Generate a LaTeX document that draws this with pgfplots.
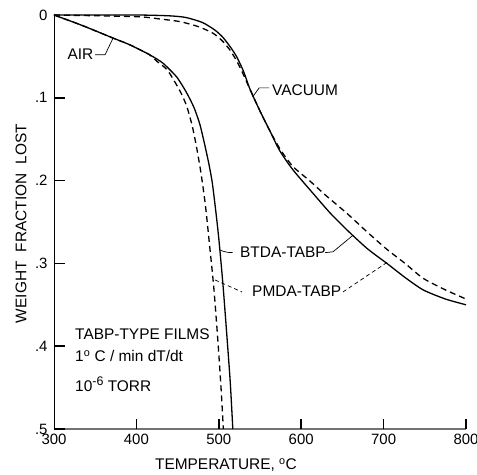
\documentclass[border=0pt]{standalone}
\usepackage{pgfplots}
\pgfplotsset{compat=1.18}
\usepackage{fontspec}
\setmainfont{Liberation Sans}
\begin{document}
\begin{tikzpicture}
\useasboundingbox (-54bp,-46bp) rectangle (423bp,429bp);
\begin{axis}[
  at={(0,0)}, anchor=south west,
  scale only axis, width=412bp, height=414bp,
  xmin=300, xmax=800, ymin=0, ymax=0.5,
  y dir=reverse,
  axis x line*=bottom, axis y line*=left,
  x axis line style={black!55, line width=1.1bp, -},
  y axis line style={black, line width=0.9bp, -},
  xtick={300,400,500,600,700,800},
  xticklabels={300,400,500,600,700,800},
  ytick={0,0.1,0.2,0.3,0.4,0.5},
  yticklabels={0,.1,.2,.3,.4,.5},
  major tick length=0pt,
  ticklabel style={font=\fontsize{15}{17}\selectfont},
  yticklabel style={xshift=-3bp},
  xticklabel style={yshift=-1.5bp},
  clip=false,
]
% Air, BTDA-TABP (solid)
\addplot[black, line width=1.3bp, smooth, tension=0.4] coordinates {
(300,0) (330,0.011) (350,0.019) (372,0.028) (392,0.036) (416,0.048) (432,0.058) (449,0.075) (461,0.094) (470,0.112) (477,0.132) (483,0.157) (488,0.180) (492,0.202) (496,0.234) (500,0.270) (505,0.325) (510,0.390) (514,0.445) (517,0.5)};
% Air, PMDA-TABP (dashed)
\addplot[black, line width=1.3bp, dash pattern=on 6bp off 4bp, smooth, tension=0.4] coordinates {
(300,0) (330,0.011) (350,0.019) (372,0.028) (392,0.036) (416,0.048) (425,0.056) (438,0.067) (453,0.092) (461,0.110) (468,0.135) (474,0.165) (479,0.195) (484,0.232) (489,0.280) (494,0.330) (499,0.395) (503,0.455) (505.5,0.5)};
% Vacuum, BTDA-TABP (solid)
\addplot[black, line width=1.3bp, smooth, tension=0.4] coordinates {
(300,0) (400,0) (440,0.001) (460,0.003) (480,0.009) (495,0.018) (505,0.027) (515,0.040) (522,0.051) (530,0.068) (538,0.090) (550,0.116) (562,0.140) (574,0.164) (590,0.187) (614,0.215) (635,0.239) (656,0.260) (680,0.282) (704,0.300) (726,0.317) (748,0.332) (775,0.343) (800,0.350)};
% Vacuum, PMDA-TABP (dashed)
\addplot[black, line width=1.3bp, dash pattern=on 6bp off 4bp, smooth, tension=0.4] coordinates {
(300,0) (400,0.002) (430,0.005) (453,0.008) (475,0.014) (493,0.022) (505,0.032) (514,0.043) (522,0.056) (528,0.068) (538,0.090) (550,0.116) (562,0.140) (575,0.163) (590,0.183) (610,0.200) (630,0.218) (656,0.240) (680,0.262) (704,0.283) (726,0.300) (748,0.318) (775,0.332) (800,0.343)};

% tick marks, pointing into the plot
\draw[black, line width=1.5bp] (axis cs:400,0.5) -- (axis cs:400,0.4885);
\draw[black, line width=1.5bp] (axis cs:500,0.5) -- (axis cs:500,0.4885);
\draw[black, line width=1.5bp] (axis cs:600,0.5) -- (axis cs:600,0.4885);
\draw[black, line width=1.5bp] (axis cs:700,0.5) -- (axis cs:700,0.4885);
\draw[black, line width=1.5bp] (axis cs:800,0.5) -- (axis cs:800,0.4885);
\draw[black, line width=1.5bp] (axis cs:300,0.1) -- (axis cs:313,0.1);
\draw[black, line width=1.5bp] (axis cs:300,0.2) -- (axis cs:313,0.2);
\draw[black, line width=1.5bp] (axis cs:300,0.3) -- (axis cs:313,0.3);
\draw[black, line width=1.5bp] (axis cs:300,0.4) -- (axis cs:313,0.4);
\draw[black, line width=1.5bp] (axis cs:300,0.5) -- (axis cs:313,0.5);

\begin{scope}[font=\fontsize{15.5}{17}\selectfont]
\node[anchor=east, inner sep=0] at (axis cs:348,0.047) {AIR};
\draw[line width=0.7bp] (axis cs:350,0.048) -- (axis cs:362,0.048) -- (axis cs:371.6,0.028);
\node[anchor=west, inner sep=0] at (axis cs:564.6,0.091) {VACUUM};
\draw[line width=0.7bp] (axis cs:561,0.088) -- (axis cs:549,0.088) -- (axis cs:541,0.099);
\node[anchor=west, inner sep=0] at (axis cs:525.7,0.287) {BTDA-TABP};
\draw[line width=0.7bp] (axis cs:501.5,0.284) to[out=-20,in=180] (axis cs:517,0.287);
\draw[line width=0.7bp] (axis cs:629,0.287) -- (axis cs:638.6,0.286) -- (axis cs:662.9,0.266);
\node[anchor=west, inner sep=0] at (axis cs:540.3,0.333) {PMDA-TABP};
\draw[line width=0.7bp, dash pattern=on 4bp off 3bp] (axis cs:495.4,0.320) -- (axis cs:528.2,0.3345);
\draw[line width=0.7bp, dash pattern=on 4bp off 3bp] (axis cs:650.7,0.3345) -- (axis cs:705.3,0.298);
\node[anchor=west, inner sep=0] at (axis cs:325.5,0.386) {TABP-TYPE FILMS};
\node[anchor=west, inner sep=0] at (axis cs:325.5,0.412) {1\textsuperscript{o} C / min dT/dt};
\node[anchor=west, inner sep=0] at (axis cs:325.5,0.446) {10\raisebox{5.5bp}{\fontsize{12.5}{14}\selectfont -6} TORR};
\node[anchor=center, inner sep=0] at (axis cs:508.7,0.544) {TEMPERATURE, \textsuperscript{o}C};
\node[anchor=center, inner sep=0, rotate=90] at (axis cs:260,0.252) {WEIGHT\hspace{9bp}FRACTION\hspace{9bp}LOST};
\end{scope}
\end{axis}
\end{tikzpicture}
\end{document}
